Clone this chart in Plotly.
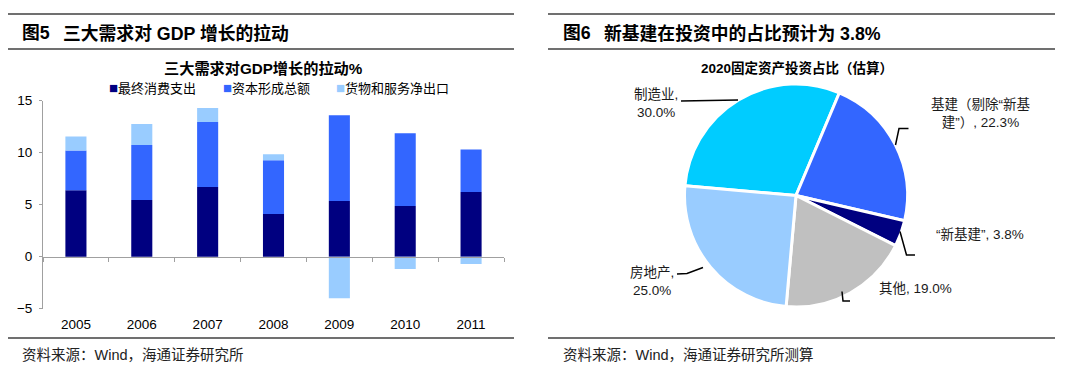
import plotly.graph_objects as go

W, H = 1080, 369
def px(x): return x / W
def py(y): return 1 - y / H

FONT = "Liberation Sans, Noto Sans CJK SC, sans-serif"

# ---------------- data ----------------
years = ["2005", "2006", "2007", "2008", "2009", "2010", "2011"]
consumption = [6.4, 5.45, 6.7, 4.1, 5.35, 4.87, 6.22]
capital = [3.8, 5.3, 6.25, 5.17, 8.25, 7.0, 4.08]
net_exports = [1.35, 2.0, 1.35, 0.58, -4.0, -1.18, -0.7]
series_names = ["最终消费支出", "资本形成总额", "货物和服务净出口"]
bar_colors = ["#000080", "#3366FF", "#99CCFF"]

pie_labels = ["制造业", "基建（剔除“新基建”）", "“新基建”", "其他", "房地产"]
pie_values = [30.0, 22.3, 3.8, 19.0, 25.0]
pie_colors = ["#00CCFF", "#3366FF", "#000080", "#C0C0C0", "#99CCFF"]

fig = go.Figure()

# ---------------- bar chart ----------------
for name, vals, col in zip(series_names, [consumption, capital, net_exports], bar_colors):
    fig.add_trace(go.Bar(x=years, y=vals, name=name, marker=dict(color=col, line=dict(width=0)),
                         xaxis="x", yaxis="y", showlegend=False))
# helper trace for the zero-line category axis with boundary ticks
fig.add_trace(go.Scatter(x=years, y=[0] * len(years), xaxis="x2", yaxis="y", mode="markers",
                         marker=dict(opacity=0), showlegend=False, hoverinfo="skip"))

# ---------------- pie chart ----------------
fig.add_trace(go.Pie(labels=pie_labels, values=pie_values, sort=False, direction="clockwise",
                     rotation=-85, marker=dict(colors=pie_colors, line=dict(color="white", width=3)),
                     textinfo="none", hoverinfo="label+percent", showlegend=False, automargin=False,
                     domain=dict(x=[px(684.5), px(907.5)], y=[py(307), py(84)])))

y_top, y_bot = 100.7, 308.7
y_zero = 256.7
AX = "#A0A0A0"
fig.update_layout(
    template="none",
    width=W, height=H, margin=dict(l=0, r=0, t=0, b=0, pad=0, autoexpand=False),
    paper_bgcolor="white", plot_bgcolor="white", showlegend=False,
    barmode="relative", bargap=0.68,
    font=dict(family=FONT, size=13.5, color="#000"),
    xaxis=dict(domain=[px(43), px(504)], type="category", anchor="y", showline=False, ticks="",
               showgrid=False, zeroline=False, tickfont=dict(size=13.5, color="#000"),
               ticklabelstandoff=6, range=[-0.5, 6.5], automargin=False),
    xaxis2=dict(type="category", overlaying="x", anchor="free", position=py(y_zero),
                showline=True, linecolor=AX, linewidth=1, ticks="outside", tickson="boundaries",
                ticklen=4, tickcolor=AX, showticklabels=False, showgrid=False, zeroline=False,
                range=[-0.5, 6.5], automargin=False),
    yaxis=dict(domain=[py(y_bot), py(y_top)], range=[-5, 15], dtick=5, showline=True, linecolor=AX,
               linewidth=1, ticks="outside", ticklen=3, tickcolor=AX, showgrid=False, zeroline=False,
               tickfont=dict(size=13.5, color="#000"), ticklabelstandoff=4, automargin=False),
)

ann = []
def add_text(text, x, y, size=13.5, xanchor="left", bold=False, color="#000", align="left"):
    ann.append(dict(text=f"<b>{text}</b>" if bold else text, x=px(x), y=py(y), xref="paper", yref="paper",
                    xanchor=xanchor, yanchor="middle", showarrow=False, align=align,
                    font=dict(family=FONT, size=size, color=color)))

# headers
add_text("图5", 20, 33, size=17.8, bold=True)
add_text("三大需求对 GDP 增长的拉动", 61, 33, size=17.8, bold=True)
add_text("图6", 560.5, 33, size=17.8, bold=True)
add_text("新基建在投资中的占比预计为 3.8%", 601.5, 33, size=17.8, bold=True)
# chart titles
add_text("三大需求对GDP增长的拉动%", 263.5, 68, size=15.2, bold=True, xanchor="center")
add_text("2020固定资产投资占比（估算）", 797, 68, size=13.5, bold=True, xanchor="center")
# footers
add_text("资料来源：Wind，海通证券研究所", 20, 355, size=14.5, color="#222")
add_text("资料来源：Wind，海通证券研究所测算", 560.5, 355, size=14.5, color="#222")

# legend (built from series names/colours)
for name, col, lx in zip(series_names, bar_colors, [107, 221, 334]):
    add_text(f"<span style='color:{col};font-size:15px'>■</span>{name}", lx, 88, size=13)

# pie labels (built from data)
label_pos = [(656, 104, "center"), (980, 113, "center"), (980, 234, "center"),
             (915, 288, "center"), (652, 281, "center")]
label_breaks = [None, 8, -1, -1, None]  # None: break after name, int: break at char idx, -1: no break
for lab, val, (lx, ly, anc), br in zip(pie_labels, pie_values, label_pos, label_breaks):
    if br is None:
        txt = f"{lab},<br>{val:.1f}%"
    elif br == -1:
        txt = f"{lab}, {val:.1f}%"
    else:
        txt = f"{lab[:br]}<br>{lab[br:]}, {val:.1f}%"
    add_text(txt, lx, ly, size=13.5, xanchor=anc, align="center", color="#1a1a1a")

fig.update_layout(annotations=ann)

# decorative rules and leader lines
shapes = []
def hline(x0, x1, y, color="#404040", w=1.3):
    shapes.append(dict(type="line", xref="paper", yref="paper", x0=px(x0), x1=px(x1), y0=py(y), y1=py(y),
                       line=dict(color=color, width=w)))
for (a, b) in [(8, 514), (548, 1055)]:
    hline(a, b, 14)
    hline(a, b, 49)
    hline(a, b, 338)

def path(points, color="#000", w=1.5):
    d = "M" + " L".join(f"{px(x):.5f},{py(y):.5f}" for x, y in points)
    shapes.append(dict(type="path", xref="paper", yref="paper", path=d,
                       line=dict(color=color, width=w)))
path([(681, 101), (738, 100)])
path([(895.5, 145), (899, 128.5), (908.5, 128.5)])
path([(900, 231.5), (906.5, 255), (915, 255)])
path([(842, 291.5), (843, 301), (850, 301)])
path([(677, 274), (687, 273.5), (703, 267.5)])
fig.update_layout(shapes=shapes)

fig.write_html("out.html", config={"displayModeBar": False},
               post_script="document.body.style.margin='0';document.body.style.overflow='hidden';")
